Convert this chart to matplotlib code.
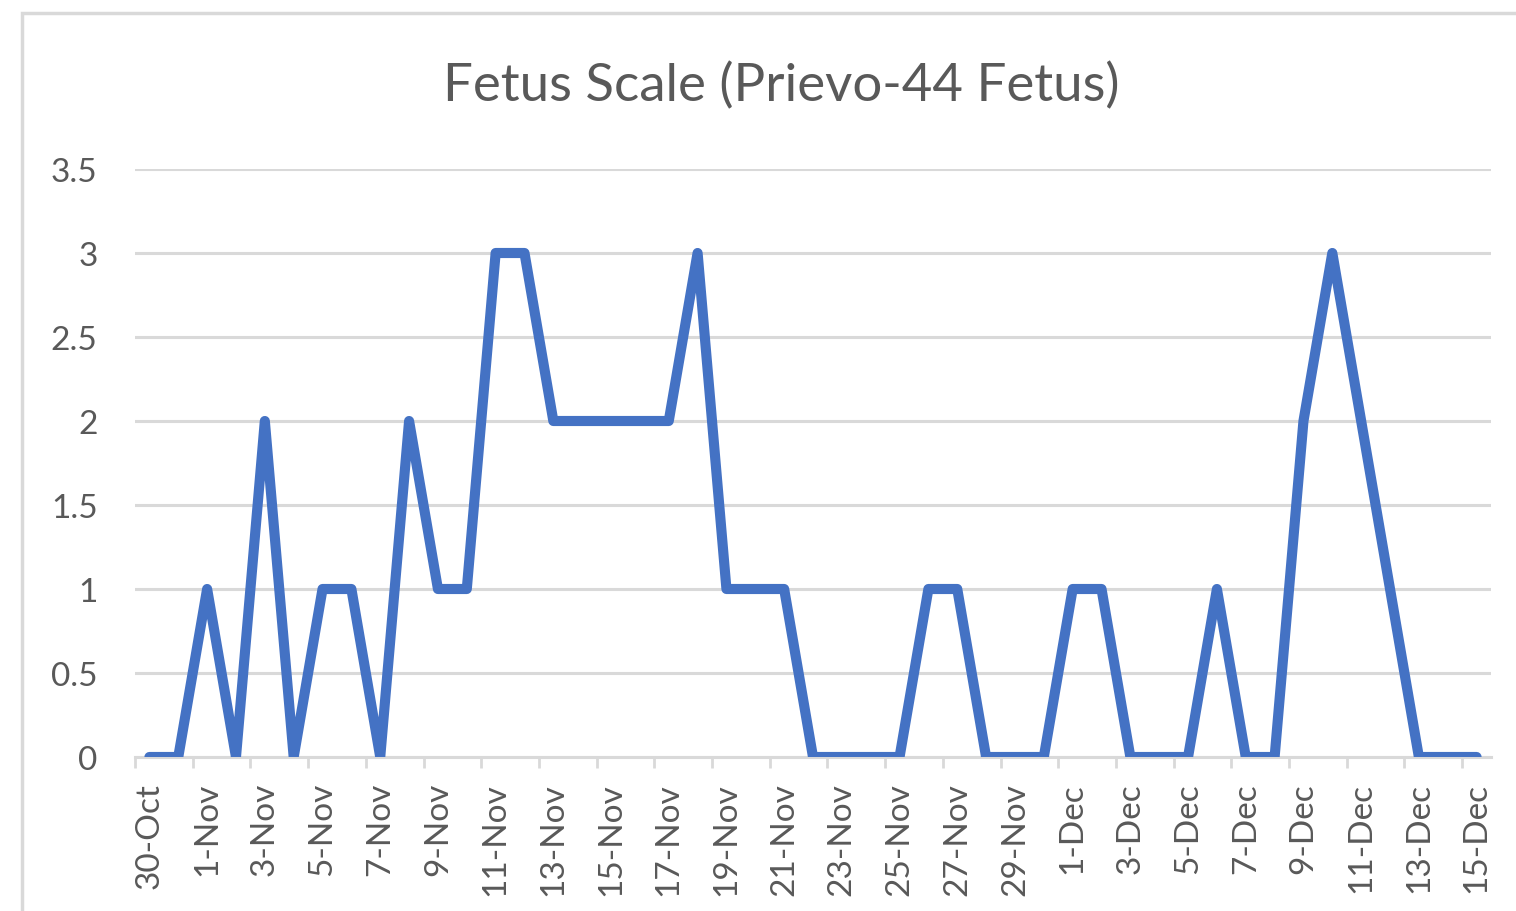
import numpy as np
import pandas as pd
import matplotlib
matplotlib.use('Agg')
import matplotlib.pyplot as plt
from matplotlib.patches import Rectangle

# daily scores, 30-Oct .. 15-Dec
dates = pd.date_range('2023-10-30', '2023-12-15', freq='D')
scores = [0, 0, 1, 0, 2, 0, 1, 1, 0, 2,
          1, 1, 3, 3, 2, 2, 2, 2, 2, 3,
          1, 1, 1, 0, 0, 0, 0, 1, 1, 0,
          0, 0, 1, 1, 0, 0, 0, 1, 0, 0,
          2, 3, 2, 1, 0, 0, 0]
labels = [f"{d.day}-{d.strftime('%b')}" for d in dates]
title = 'Fetus Scale (Prievo-44 Fetus)'

plt.rcParams['font.family'] = ['Lato', 'DejaVu Sans']
txt = '#595959'
grid = '#d9d9d9'

fig = plt.figure(figsize=(15.16, 9.12), dpi=100)
ax = fig.add_axes([135/1516, 1-758/912, (1491-135)/1516, (758-170)/912])

x = np.arange(len(scores))
ax.plot(x, scores, color='#4472C4', lw=7.3, solid_joinstyle='round', solid_capstyle='round', zorder=3)

ax.set_xlim(-0.5, len(scores) - 0.5)
ax.set_ylim(0, 3.5)
ax.set_yticks(np.arange(0, 3.51, 0.5))
ax.set_yticklabels(['0', '0.5', '1', '1.5', '2', '2.5', '3', '3.5'])
ax.yaxis.grid(True, color=grid, lw=2.2)
ax.set_axisbelow(True)

# labels on every other day, ticks on category boundaries
ax.set_xticks(x[::2])
ax.set_xticklabels(labels[::2], rotation=90)
ax.set_xticks(np.arange(-0.5, len(scores), 2), minor=True)
ax.tick_params(axis='x', which='major', length=0, pad=18, labelsize=24, labelcolor=txt)
ax.tick_params(axis='x', which='minor', length=8, width=2, color=grid)
ax.tick_params(axis='y', length=0, pad=27, labelsize=24, labelcolor=txt)

for s in ['top', 'right', 'left']:
    ax.spines[s].set_visible(False)
ax.spines['bottom'].set_color(grid)
ax.spines['bottom'].set_linewidth(2.2)

fig.text(781/1516, 1-86/912, title, ha='center', va='center', fontsize=38, color=txt)

# chart-area border
fig.patches.append(Rectangle((22/1516, -0.5), 2, 0.5 + 1 - 14/912, transform=fig.transFigure,
                             fill=False, ec=grid, lw=2.5))

fig.savefig('out.png', dpi=100)
